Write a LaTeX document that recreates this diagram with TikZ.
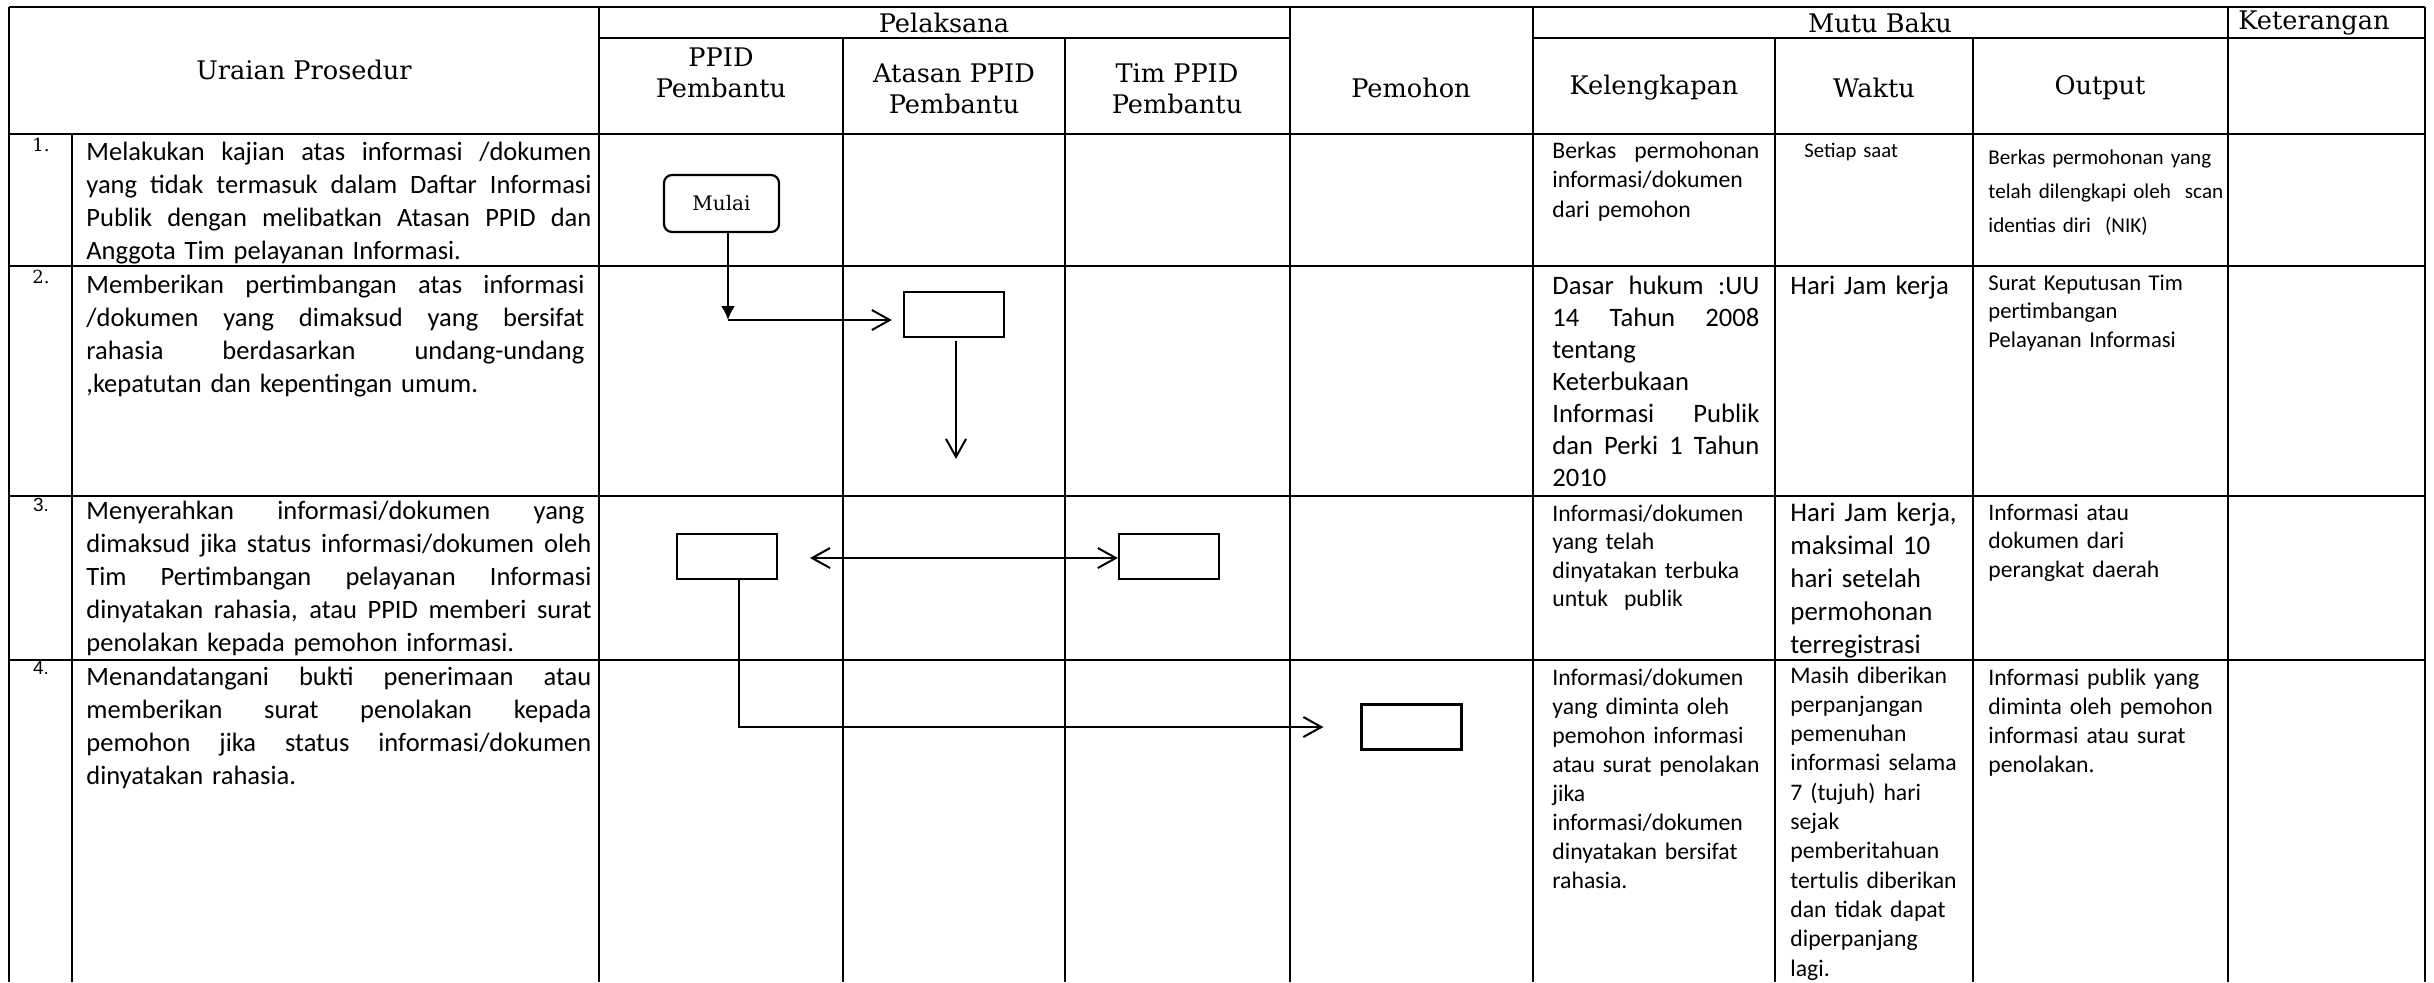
\documentclass[tikz,border=0pt]{standalone}
\usepackage{fontspec}
\setmainfont{Carlito}
\newfontfamily\hdrfont{DejaVu Serif}
\newfontfamily\arialfont{Liberation Sans}
\usetikzlibrary{arrows.meta,calc}
\newcommand\jl[2][\linewidth]{\makebox[#1][s]{\spaceskip=0.226em plus 1fil\relax #2}}
\begin{document}
\begin{tikzpicture}[x=0.5pt,y=-0.5pt,
  grid/.style={line width=0.9pt},
  hdr/.style={font=\hdrfont\fontsize{12.8}{15.5}\selectfont, align=center, inner sep=0pt},
  num/.style={font=\hdrfont\fontsize{9}{10}\selectfont, inner sep=0pt},
  numb/.style={font=\arialfont\fontsize{9.5}{10}\selectfont, inner sep=0pt},
  cell/.style={anchor=base west, inner sep=0pt, align=left},
  uraian/.style={cell, text width=252.5pt, font=\fontsize{13.25}{16.6}\selectfont},
  kel/.style={cell, text width=103.5pt},
  wak/.style={cell, text width=100pt},
  outp/.style={cell, text width=118pt},
  stepbox/.style={draw, line width=1.1pt, minimum width=50pt, minimum height=22.5pt, inner sep=0pt},
  conn/.style={line width=1pt},
  barb/.style={-{Straight Barb[length=9pt,width=10pt]}},
]
\useasboundingbox (0,0) rectangle (2434,982);
% ---------- table grid ----------
\draw[grid] (9,7) -- (2425,7);
\draw[grid] (599,38) -- (1290,38);
\draw[grid] (1533,38) -- (2425,38);
\foreach \yy in {134,266,496,660} \draw[grid] (9,\yy) -- (2425,\yy);
\foreach \xx in {9,599,1290,1533,2228} \draw[grid] (\xx,7) -- (\xx,982);
\draw[line width=1.4pt] (2425,7) -- (2425,982);
\foreach \xx in {843,1065,1775,1973} \draw[grid] (\xx,38) -- (\xx,982);
\draw[grid] (72,134) -- (72,982);
% ---------- headers ----------
\node[hdr] (hUraian) at (304,70) {Uraian Prosedur};
\node[hdr] (hPel) at (944,23) {Pelaksana};
\node[hdr] (hMutu) at (1880,23) {Mutu Baku};
\node[hdr] (hKet) at (2314,23) {Keterangan};
\node[hdr] (hPPID) at (721,73) {PPID\\Pembantu};
\node[hdr] (hAtasan) at (954,89) {Atasan PPID\\Pembantu};
\node[hdr] (hTim) at (1177,89) {Tim PPID\\Pembantu};
\node[hdr] (hPem) at (1411,88) {Pemohon};
\node[hdr] (hKel) at (1654,88) {Kelengkapan};
\node[hdr] (hWaktu) at (1874,88) {Waktu};
\node[hdr] (hOut) at (2100,88) {Output};
% ---------- numbers ----------
\node[num] (n1) at (41,145) {1.};
\node[num] (n2) at (41,277) {2.};
\node[numb] (n3) at (41,505) {3.};
\node[numb] (n4) at (41,668) {4.};
% ---------- uraian ----------
\node[uraian] (u1) at (86,160) {\jl{Melakukan kajian atas informasi /dokumen}\\
\jl{yang tidak termasuk dalam Daftar Informasi}\\
\jl{Publik dengan melibatkan Atasan PPID dan}\\
Anggota Tim pelayanan Informasi.};
\node[uraian] (u2) at (86,293) {\jl[249pt]{Memberikan pertimbangan atas informasi}\\
\jl[249pt]{/dokumen yang dimaksud yang bersifat}\\
\jl[249pt]{rahasia berdasarkan undang-undang}\\
,kepatutan dan kepentingan umum.};
\node[uraian] (u3) at (86,519) {\jl[249pt]{Menyerahkan informasi/dokumen yang}\\
\jl{dimaksud jika status informasi/dokumen oleh}\\
\jl{Tim Pertimbangan pelayanan Informasi}\\
\jl{dinyatakan rahasia, atau PPID memberi surat}\\
penolakan kepada pemohon informasi.};
\node[uraian] (u4) at (86,685) {\jl{Menandatangani bukti penerimaan atau}\\
\jl{memberikan surat penolakan kepada}\\
\jl{pemohon jika status informasi/dokumen}\\
dinyatakan rahasia.};
% ---------- kelengkapan ----------
\node[kel, font=\fontsize{11.85}{14.75}\selectfont] (k1) at (1552,158) {\jl{Berkas permohonan}\\
informasi/dokumen\\dari pemohon};
\node[kel, font=\fontsize{13.3}{16}\selectfont] (k2) at (1552,294) {\jl{Dasar hukum :UU}\\
\jl{14 Tahun 2008}\\tentang\\Keterbukaan\\\jl{Informasi Publik}\\\jl{dan Perki 1 Tahun}\\2010};
\node[kel, font=\fontsize{11.85}{14.25}\selectfont] (k3) at (1552,521) {Informasi/dokumen\\yang telah\\dinyatakan terbuka\\untuk\ \ publik};
\node[kel, text width=110pt, font=\fontsize{11.85}{14.5}\selectfont] (k4) at (1552,685) {Informasi/dokumen\\yang diminta oleh\\pemohon informasi\\atau surat penolakan\\jika\\informasi/dokumen\\dinyatakan bersifat\\rahasia.};
% ---------- waktu ----------
\node[wak, font=\fontsize{10.35}{12.5}\selectfont] (w1) at (1804,157) {Setiap saat};
\node[wak, font=\fontsize{13.35}{16}\selectfont] (w2) at (1790,294) {Hari Jam kerja};
\node[wak, font=\fontsize{13.45}{16.5}\selectfont] (w3) at (1790,521) {Hari Jam kerja,\\maksimal 10\\hari setelah\\permohonan\\terregistrasi};
\node[wak, font=\fontsize{11.85}{14.65}\selectfont] (w4) at (1790,683) {Masih diberikan\\perpanjangan\\pemenuhan\\informasi selama\\7 (tujuh) hari\\sejak\\pemberitahuan\\tertulis diberikan\\dan tidak dapat\\diperpanjang\\lagi.};
% ---------- output ----------
\node[outp, font=\fontsize{10.55}{17}\selectfont] (o1) at (1988,164) {Berkas permohonan yang\\telah dilengkapi oleh\ \ scan\\identias diri\ \ (NIK)};
\node[outp, font=\fontsize{11.3}{14.25}\selectfont] (o2) at (1988,290) {Surat Keputusan Tim\\pertimbangan\\Pelayanan Informasi};
\node[outp, font=\fontsize{11.8}{14.25}\selectfont] (o3) at (1988,520) {Informasi atau\\dokumen dari\\perangkat daerah};
\node[outp, font=\fontsize{11.85}{14.5}\selectfont] (o4) at (1988,685) {Informasi publik yang\\diminta oleh pemohon\\informasi atau surat\\penolakan.};
% ---------- flowchart ----------
\node[draw, rounded corners=4pt, line width=1.1pt, minimum width=57.5pt, minimum height=28.5pt, inner sep=0pt,
      font=\hdrfont\fontsize{10}{12}\selectfont] (mulai) at (721.5,203.5) {Mulai};
\node[stepbox] (b2) at (954,314.5) {};
\node[stepbox] (b3a) at (727,556.5) {};
\node[stepbox] (b3b) at (1169,556.5) {};
\node[stepbox] (b4) at (1411.5,727) {};
\coordinate (c1) at (728,320);
\coordinate (c3) at (956,459);
\coordinate (c4) at (810,558);
\draw[conn,-{Latex[length=7pt,width=7pt]}] ($(mulai.south)+(6.5,0)$) -- (c1);
\draw[conn,barb,shorten >=5.5pt] (c1) -- (c1 -| b2.west);
\draw[conn,barb] ($(b2.south)+(2,3)$) -- (c3);
\draw[conn,{Straight Barb[length=9pt,width=10pt]}-{Straight Barb[length=9pt,width=10pt]}] (c4) -- (c4 -| b3b.west);
\draw[conn,barb,shorten >=18.5pt] ($(b3a.south)+(12,0)$) |- (b4.west);
\end{tikzpicture}
\end{document}
